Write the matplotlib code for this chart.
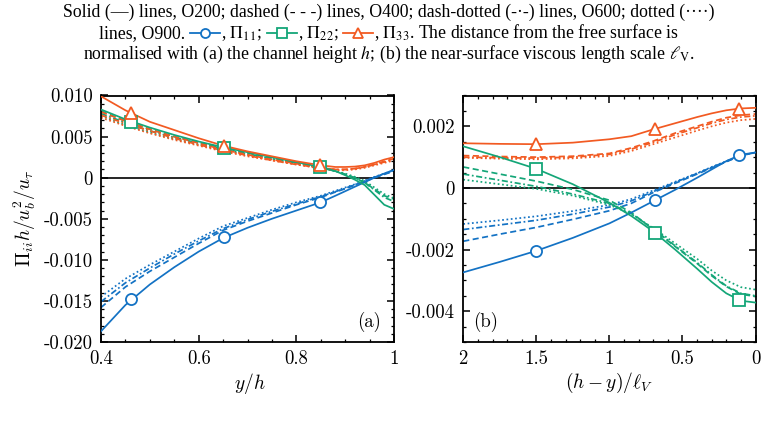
import matplotlib
matplotlib.use('Agg')
import matplotlib.pyplot as plt
import matplotlib.ticker as mticker
from matplotlib.lines import Line2D
import numpy as np

# values are in units of 1e-3
scale = 1e-3

# panel (a): distance normalised with h
xa = [0.40, 0.45, 0.50, 0.55, 0.60, 0.65, 0.70, 0.75, 0.80, 0.85, 0.88, 0.90, 0.92, 0.94, 0.96, 0.98, 1.00]
p11_a = {
    'O200': [-18.7, -15.5, -13.0, -10.9, -9.0, -7.35, -6.1, -5.0, -4.0, -3.0, -2.2, -1.65, -1.1, -0.55, 0.0, 0.5, 0.95],
    'O400': [-15.8, -13.3, -11.4, -9.7, -8.0, -6.4, -5.3, -4.3, -3.3, -2.4, -1.75, -1.35, -0.9, -0.45, 0.0, 0.4, 0.8],
    'O600': [-15.1, -12.8, -11.0, -9.3, -7.7, -6.2, -5.1, -4.1, -3.2, -2.3, -1.7, -1.3, -0.85, -0.4, 0.05, 0.45, 0.85],
    'O900': [-14.5, -12.3, -10.6, -9.0, -7.4, -5.9, -4.9, -3.9, -3.0, -2.2, -1.6, -1.2, -0.8, -0.35, 0.1, 0.5, 0.9],
}
p22_a = {
    'O200': [8.3, 7.1, 6.1, 5.2, 4.4, 3.7, 3.1, 2.5, 1.9, 1.3, 0.8, 0.3, -0.25, -0.9, -2.1, -3.3, -3.8],
    'O400': [8.1, 6.9, 5.9, 5.0, 4.3, 3.6, 3.0, 2.4, 1.8, 1.2, 0.8, 0.4, 0.0, -0.6, -1.4, -2.2, -2.6],
    'O600': [7.8, 6.7, 5.7, 4.9, 4.2, 3.5, 2.9, 2.3, 1.8, 1.2, 0.8, 0.4, 0.0, -0.6, -1.5, -2.4, -2.9],
    'O900': [7.5, 6.4, 5.5, 4.7, 4.0, 3.4, 2.8, 2.3, 1.7, 1.2, 0.8, 0.5, 0.1, -0.4, -1.2, -2.0, -2.5],
}
p33_a = {
    'O200': [9.9, 8.2, 6.8, 5.8, 4.8, 3.9, 3.2, 2.6, 2.0, 1.5, 1.3, 1.3, 1.35, 1.5, 1.8, 2.2, 2.5],
    'O400': [8.0, 6.9, 5.9, 5.0, 4.2, 3.4, 2.8, 2.2, 1.7, 1.2, 1.0, 1.0, 1.1, 1.3, 1.6, 2.0, 2.3],
    'O600': [7.6, 6.6, 5.7, 4.8, 4.0, 3.3, 2.7, 2.1, 1.6, 1.2, 1.0, 1.0, 1.1, 1.3, 1.6, 1.9, 2.2],
    'O900': [7.3, 6.3, 5.4, 4.6, 3.9, 3.2, 2.6, 2.1, 1.6, 1.1, 0.9, 0.9, 1.0, 1.2, 1.5, 1.8, 2.1],
}
xa_mark = [0.462, 0.652, 0.848]
p11_a_mark = [-14.8, -7.2, -3.0]
p22_a_mark = [6.75, 3.65, 1.33]
p33_a_mark = [7.9, 3.85, 1.5]

# panel (b): distance normalised with the viscous length scale
xb = [2.0, 1.75, 1.5, 1.25, 1.0, 0.85, 0.7, 0.55, 0.4, 0.3, 0.2, 0.1, 0.0]
p11_b = {
    'O200': [-2.74, -2.40, -2.04, -1.62, -1.15, -0.80, -0.43, -0.06, 0.33, 0.60, 0.87, 1.08, 1.15],
    'O400': [-1.73, -1.50, -1.28, -1.02, -0.74, -0.50, -0.15, 0.15, 0.45, 0.65, 0.85, 1.05, 1.15],
    'O600': [-1.35, -1.20, -1.05, -0.85, -0.62, -0.42, -0.12, 0.18, 0.47, 0.67, 0.86, 1.05, 1.15],
    'O900': [-1.17, -1.05, -0.92, -0.75, -0.55, -0.36, -0.08, 0.20, 0.48, 0.68, 0.87, 1.05, 1.15],
}
p22_b = {
    'O200': [1.35, 1.00, 0.62, 0.12, -0.48, -0.91, -1.41, -2.00, -2.62, -3.05, -3.42, -3.66, -3.72],
    'O400': [0.68, 0.45, 0.22, -0.05, -0.40, -0.80, -1.35, -1.90, -2.45, -2.85, -3.20, -3.45, -3.52],
    'O600': [0.45, 0.25, 0.05, -0.20, -0.50, -0.83, -1.33, -1.88, -2.42, -2.82, -3.18, -3.42, -3.50],
    'O900': [0.27, 0.12, -0.03, -0.25, -0.55, -0.85, -1.30, -1.80, -2.30, -2.68, -3.00, -3.22, -3.30],
}
p33_b = {
    'O200': [1.45, 1.43, 1.42, 1.47, 1.58, 1.68, 1.90, 2.10, 2.30, 2.42, 2.52, 2.58, 2.60],
    'O400': [1.05, 1.02, 1.00, 1.03, 1.12, 1.30, 1.52, 1.78, 2.00, 2.15, 2.28, 2.36, 2.40],
    'O600': [1.00, 0.98, 0.97, 1.00, 1.09, 1.26, 1.48, 1.73, 1.95, 2.10, 2.22, 2.30, 2.34],
    'O900': [0.98, 0.95, 0.93, 0.96, 1.04, 1.20, 1.42, 1.64, 1.86, 2.00, 2.12, 2.20, 2.24],
}
xb_mark = [1.5, 0.687, 0.115]
p11_b_mark = [-2.04, -0.40, 1.08]
p22_b_mark = [0.62, -1.46, -3.65]
p33_b_mark = [1.43, 1.92, 2.57]

blue = '#1372c4'
green = '#14a678'
orange = '#f25a22'

styles = {
    'O200': '-',
    'O400': (0, (3.5, 2.0)),
    'O600': (0, (3.5, 1.5, 1.0, 1.5)),
    'O900': (0, (1.0, 1.5)),
}

plt.rcParams['font.family'] = 'cmr10'
plt.rcParams['mathtext.fontset'] = 'cm'
plt.rcParams['axes.unicode_minus'] = False

fig = plt.figure(figsize=(7.66, 4.25), dpi=100)
W, H = 766, 425


def fx(px):
    return px / W


def fy(py):
    return 1 - py / H


ax_a = fig.add_axes([fx(101), fy(342), fx(394) - fx(101), fy(95.5) - fy(342)])
ax_b = fig.add_axes([fx(463.3), fy(342), fx(755.5) - fx(463.3), fy(95.5) - fy(342)])


def draw_panel(ax, x, groups, xm, marks):
    ax.axhline(0, color='black', lw=1.2, zorder=1)
    for (data, color), (ym, mk) in zip(groups, marks):
        for run in ['O900', 'O600', 'O400', 'O200']:
            ax.plot(x, np.array(data[run]) * scale, color=color, lw=1.25,
                    linestyle=styles[run], zorder=3 if run == 'O200' else 2)
        ax.plot(xm, np.array(ym) * scale, linestyle='none', marker=mk,
                ms=8, mfc='white', mec=color, mew=1.3, zorder=4)


draw_panel(ax_a, xa, [(p11_a, blue), (p22_a, green), (p33_a, orange)], xa_mark,
           [(p11_a_mark, 'o'), (p22_a_mark, 's'), (p33_a_mark, '^')])
draw_panel(ax_b, xb, [(p11_b, blue), (p22_b, green), (p33_b, orange)], xb_mark,
           [(p11_b_mark, 'o'), (p22_b_mark, 's'), (p33_b_mark, '^')])


def fmt(v, pos, nd):
    if abs(v) < 1e-12:
        return '0'
    s = f'{v:.{nd}f}' if nd > 0 else f'{v:g}'
    return s


ax_a.set_xlim(0.4, 1.0)
ax_a.set_ylim(-0.020, 0.010)
ax_a.xaxis.set_major_locator(mticker.MultipleLocator(0.2))
ax_a.xaxis.set_minor_locator(mticker.MultipleLocator(0.05))
ax_a.yaxis.set_major_locator(mticker.MultipleLocator(0.005))
ax_a.yaxis.set_minor_locator(mticker.MultipleLocator(0.001))
ax_a.xaxis.set_major_formatter(mticker.FuncFormatter(lambda v, p: fmt(v, p, 0)))
ax_a.yaxis.set_major_formatter(mticker.FuncFormatter(lambda v, p: fmt(v, p, 3)))

ax_b.set_xlim(2.0, 0.0)
ax_b.set_ylim(-0.005, 0.003)
ax_b.xaxis.set_major_locator(mticker.MultipleLocator(0.5))
ax_b.xaxis.set_minor_locator(mticker.MultipleLocator(0.1))
ax_b.yaxis.set_major_locator(mticker.MultipleLocator(0.002))
ax_b.yaxis.set_minor_locator(mticker.MultipleLocator(0.0005))
ax_b.xaxis.set_major_formatter(mticker.FuncFormatter(lambda v, p: fmt(v, p, 0)))
ax_b.yaxis.set_major_formatter(mticker.FuncFormatter(lambda v, p: fmt(v, p, 3)))

for ax in (ax_a, ax_b):
    ax.tick_params(which='both', direction='in', top=True, right=True, labelsize=13.5)
    ax.tick_params(which='major', length=5, width=1.1, pad=6)
    ax.tick_params(which='minor', length=2.5, width=0.9)
    for sp in ax.spines.values():
        sp.set_linewidth(1.3)

ax_a.text(0.955, 0.04, '(a)', transform=ax_a.transAxes, ha='right', va='bottom', fontsize=13.5)
ax_b.text(0.035, 0.04, '(b)', transform=ax_b.transAxes, ha='left', va='bottom', fontsize=13.5)

fig.text(fx(25), fy(218), r'$\Pi_{ii}h/u_b^2/u_\tau$', rotation=90, ha='center', va='center', fontsize=14)
fig.text(fx(250), fy(383), r'$y/h$', ha='center', va='center', fontsize=14)
fig.text(fx(609), fy(383), r'$(h-y)/\ell_V$', ha='center', va='center', fontsize=14)

# caption above the panels
cap = dict(family='Liberation Serif', fontsize=12.8, math_fontfamily='stix', va='baseline')
fig.text(fx(389), fy(17), 'Solid (\u2014) lines, O200; dashed (- - -) lines, O400; '
         'dash-dotted (-\u00b7-) lines, O600; dotted (\u00b7\u00b7\u00b7\u00b7)',
         ha='center', **cap)
fig.text(fx(389), fy(59), r'normalised with (a) the channel height $h$; (b) the near-surface '
         r'viscous length scale $\ell_{\rm V}$.', ha='center', **cap)

pieces = [('text', 'lines, O900.'), ('sym', blue, 'o'), ('text', r', $\Pi_{11}$;'),
          ('sym', green, 's'), ('text', r', $\Pi_{22}$;'), ('sym', orange, '^'),
          ('text', r', $\Pi_{33}$. The distance from the free surface is')]
renderer = fig.canvas.get_renderer()
sym_w, gap_l, gap_r = 30, 5, 1
items, total = [], 0
for pc in pieces:
    if pc[0] == 'text':
        t = fig.text(0, fy(38), pc[1], ha='left', **cap)
        w = t.get_window_extent(renderer).width
        items.append((t, w))
        total += w
    else:
        items.append((pc, sym_w))
        total += sym_w + gap_l + gap_r
xcur = 389 - total / 2
for obj, w in items:
    if isinstance(obj, tuple):
        x0 = xcur + gap_l
        fig.add_artist(Line2D([fx(x0), fx(x0 + sym_w)], [fy(33), fy(33)], color=obj[1], lw=1.3,
                              transform=fig.transFigure))
        fig.add_artist(Line2D([fx(x0 + sym_w / 2)], [fy(33)], marker=obj[2], ms=6.5, mfc='white',
                              mec=obj[1], mew=1.3, transform=fig.transFigure))
        xcur += w + gap_l + gap_r
    else:
        obj.set_x(fx(xcur))
        xcur += w

fig.savefig('out.png', dpi=100)
